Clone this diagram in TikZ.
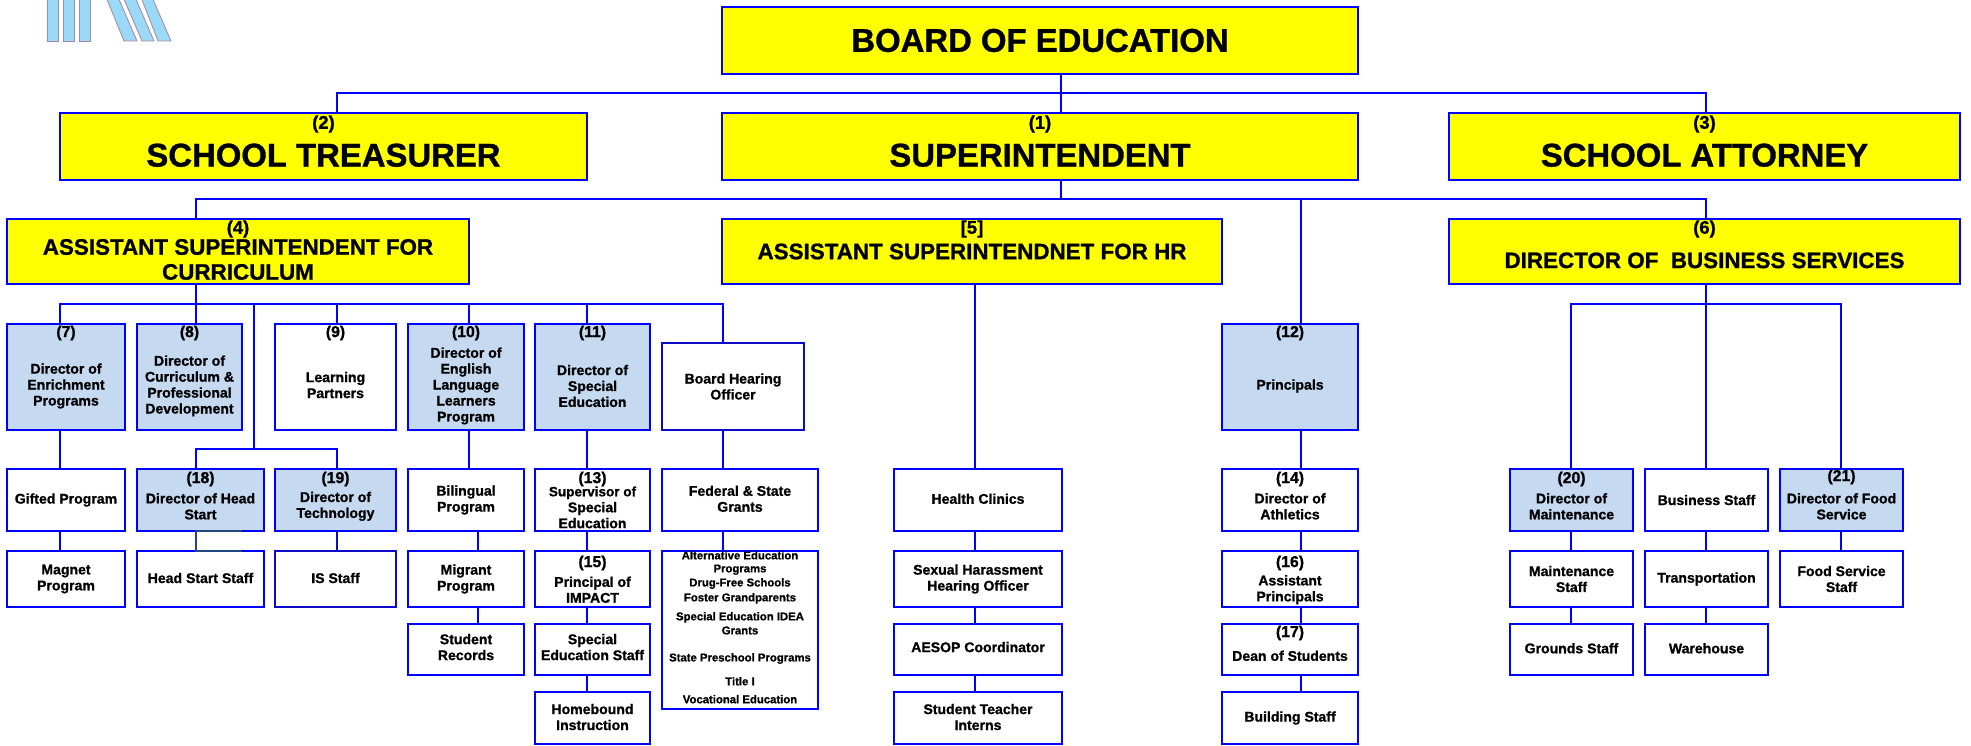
\documentclass[tikz,border=0pt]{standalone}
\usepackage{fontspec}
\setmainfont[BoldFeatures={FakeBold=1.0}]{Liberation Sans}
\usetikzlibrary{positioning}
\definecolor{chartblue}{RGB}{0,0,255}
\definecolor{chartyellow}{RGB}{255,255,0}
\definecolor{directorblue}{RGB}{197,217,241}
\definecolor{darkblue}{RGB}{10,10,200}
\definecolor{headteal}{RGB}{31,73,125}
\definecolor{logofill}{RGB}{155,217,248}
\definecolor{logoedge}{RGB}{165,140,165}
\newcommand{\dn}[1]{\rule{0pt}{#1}}
\newcommand{\up}[1]{\rule[-#1]{0pt}{0pt}}
\tikzset{
    % Define standard node styles
    boxsize/.style 2 args={
        minimum width=#1*0.02cm, minimum height=#2*0.02cm
    },
    orgbox/.style={
        rectangle, draw=chartblue, line width=1.3pt, anchor=north west,
        inner sep=0pt, outer sep=0pt, align=center, text=black
    },
    topbox/.style={
        orgbox, fill=chartyellow,
        font=\fontsize{18.7}{21}\selectfont\bfseries
    },
    midbox/.style={
        orgbox, fill=chartyellow,
        font=\fontsize{12.75}{14.2}\selectfont\bfseries
    },
    staffbox/.style={
        orgbox, fill=white,
        font=\fontsize{8}{9.07}\selectfont\bfseries
    },
    directorbox/.style={
        staffbox, fill=directorblue
    },
    tagtext/.style={
        font=\fontsize{10.5}{12}\selectfont\bfseries, inner sep=0pt
    },
    smalltag/.style={
        font=\fontsize{9}{10}\selectfont\bfseries, inner sep=0pt
    },
    tag/.style 2 args={
        label={[tagtext, anchor=center, yshift=-#2*0.02cm]north:#1}
    },
    stag/.style 2 args={
        label={[smalltag, anchor=center, yshift=-#2*0.02cm]north:#1}
    },
    link/.style={
        draw=chartblue, line width=1.3pt
    },
    logobar/.style={
        fill=logofill, draw=logoedge, line width=0.5pt
    }
}
\begin{document}
\begin{tikzpicture}[x=0.02cm, y=-0.02cm]
\useasboundingbox (0,0) rectangle (1971,746);

% logo at the page edge
\draw[logobar] (47,-3) -- (47,41) -- (58,41) -- (58,-3) -- cycle;
\draw[logobar] (63,-3) -- (63,41) -- (74,41) -- (74,-3) -- cycle;
\draw[logobar] (79,-3) -- (79,41) -- (90,41) -- (90,-3) -- cycle;
\draw[logobar] (106,-3) -- (124,41) -- (137,41) -- (118,-3) -- cycle;
\draw[logobar] (123,-3) -- (142,41) -- (154,41) -- (135,-3) -- cycle;
\draw[logobar] (141,-3) -- (158,41) -- (171,41) -- (152,-3) -- cycle;

% columns and rows of the connectors
\coordinate (col60) at (60,0);
\coordinate (col196) at (196,0);
\coordinate (col242) at (242,0);
\coordinate (col254) at (254,0);
\coordinate (col337) at (337,0);
\coordinate (col469) at (469,0);
\coordinate (col478) at (478,0);
\coordinate (col587) at (587,0);
\coordinate (col723) at (723,0);
\coordinate (col975) at (975,0);
\coordinate (col1061) at (1061,0);
\coordinate (col1301) at (1301,0);
\coordinate (col1571) at (1571,0);
\coordinate (col1706) at (1706,0);
\coordinate (col1841) at (1841,0);
\coordinate (row93) at (0,93);
\coordinate (row199) at (0,199);
\coordinate (row304) at (0,304);
\coordinate (row449) at (0,449);

% top levels
\node[topbox, boxsize={636}{67}] (board) at (722,7) {BOARD OF EDUCATION};
\node[topbox, boxsize={527}{67}, tag={(2)}{11}] (treasurer) at (60,113) {\dn{23pt}SCHOOL TREASURER};
\node[topbox, boxsize={636}{67}, tag={(1)}{11}] (superintendent) at (722,113) {\dn{23pt}SUPERINTENDENT};
\node[topbox, boxsize={511}{67}, tag={(3)}{11}] (attorney) at (1449,113) {\dn{23pt}SCHOOL ATTORNEY};
\node[midbox, boxsize={462}{65}, tag={(4)}{10}] (curriculum) at (7,219) {\dn{18pt}ASSISTANT SUPERINTENDENT FOR\\CURRICULUM};
\node[midbox, boxsize={500}{65}, tag={[5]}{10}] (hr) at (722,219) {ASSISTANT SUPERINTENDNET FOR HR};
\node[midbox, boxsize={511}{65}, tag={(6)}{10}] (business) at (1449,219) {\dn{19pt}DIRECTOR OF\ \ BUSINESS SERVICES};

% directors
\node[directorbox, boxsize={118}{106}, stag={(7)}{9}] (enrichment) at (7,324) {\dn{16pt}Director of\\Enrichment\\Programs};
\node[directorbox, boxsize={105}{106}, stag={(8)}{9}] (development) at (137,324) {\dn{16pt}Director of\\Curriculum \&\\Professional\\Development};
\node[staffbox, boxsize={121}{106}, stag={(9)}{9}] (partners) at (275,324) {\dn{15pt}Learning\\Partners};
\node[directorbox, boxsize={116}{106}, stag={(10)}{9}] (english) at (408,324) {\dn{16pt}Director of\\English\\Language\\Learners\\Program};
\node[directorbox, boxsize={115}{106}, stag={(11)}{9}] (special) at (535,324) {\dn{16pt}Director of\\Special\\Education};
\node[staffbox, draw=darkblue, boxsize={142}{87}] (hearing) at (662,343) {Board Hearing\\Officer};
\node[directorbox, boxsize={136}{106}, stag={(12)}{9}] (principals) at (1222,324) {\dn{16pt}Principals};

% second row
\node[staffbox, boxsize={118}{62}] (gifted) at (7,469) {Gifted Program};
\node[directorbox, boxsize={127}{62}, stag={(18)}{10}] (headstart) at (137,469) {\dn{13pt}Director of Head\\Start};
\node[directorbox, boxsize={121}{62}, stag={(19)}{10}] (technology) at (275,469) {\dn{13pt}Director of\\Technology};
\node[staffbox, boxsize={116}{62}] (bilingual) at (408,469) {Bilingual\\Program};
\node[staffbox, boxsize={115}{62}, stag={(13)}{10}] (supervisor) at (535,469) {\dn{14pt}\fontsize{7.7}{8.2}\selectfont Supervisor of\\Special\\Education};
\node[staffbox, boxsize={156}{62}] (grants) at (662,469) {Federal \& State\\Grants\up{1.5pt}};
\node[staffbox, boxsize={168}{62}] (clinics) at (894,469) {Health Clinics\up{1.5pt}};
\node[staffbox, boxsize={136}{62}, stag={(14)}{10}] (athletics) at (1222,469) {\dn{13pt}Director of\\Athletics};
\node[directorbox, boxsize={123}{62}, stag={(20)}{10}] (maintenance) at (1510,469) {\dn{13pt}Director of\\Maintenance};
\node[staffbox, boxsize={123}{62}] (bstaff) at (1645,469) {Business Staff};
\node[directorbox, boxsize={123}{62}, stag={(21)}{8}] (food) at (1780,469) {\dn{13pt}Director of Food\\Service};

% third row
\node[staffbox, boxsize={118}{56}] (magnet) at (7,551) {Magnet\\Program};
\node[staffbox, boxsize={127}{56}] (hsstaff) at (137,551) {Head Start Staff\up{1.2pt}};
\node[staffbox, draw=darkblue, boxsize={121}{56}] (isstaff) at (275,551) {IS Staff\up{1.2pt}};
\node[staffbox, boxsize={116}{56}] (migrant) at (408,551) {Migrant\\Program};
\node[staffbox, boxsize={115}{56}, stag={(15)}{12}] (impact) at (535,551) {\dn{18pt}Principal of\\IMPACT};
\node[staffbox, boxsize={156}{158}, inner ysep=-8pt, font=\fontsize{6.45}{7.4}\selectfont\bfseries] (programs) at (662,551) {Alternative Education\\Programs\\[0.6pt]Drug-Free Schools\\[1.1pt]Foster Grandparents\\[3.4pt]Special Education IDEA\\[0.6pt]Grants\\[8pt]State Preschool Programs\\[6.2pt]Title I\\[2.8pt]Vocational Education\up{3.2pt}};
\node[staffbox, boxsize={168}{56}] (harassment) at (894,551) {Sexual Harassment\\Hearing Officer};
\node[staffbox, boxsize={136}{56}, stag={(16)}{12}] (assistant) at (1222,551) {\dn{18pt}Assistant\\Principals};
\node[staffbox, boxsize={123}{56}] (mstaff) at (1510,551) {Maintenance\\Staff};
\node[staffbox, boxsize={123}{56}] (transport) at (1645,551) {Transportation};
\node[staffbox, boxsize={123}{56}] (fstaff) at (1780,551) {Food Service\\Staff};

% fourth row
\node[staffbox, boxsize={116}{51}] (records) at (408,624) {Student\\Records\up{2.8pt}};
\node[staffbox, boxsize={115}{51}] (spedstaff) at (535,624) {Special\\Education Staff\up{2.8pt}};
\node[staffbox, boxsize={168}{51}] (aesop) at (894,624) {AESOP Coordinator\up{2.8pt}};
\node[staffbox, boxsize={136}{51}, stag={(17)}{9}] (dean) at (1222,624) {\dn{13pt}Dean of Students};
\node[staffbox, boxsize={123}{51}] (grounds) at (1510,624) {Grounds Staff\up{1.5pt}};
\node[staffbox, boxsize={123}{51}] (warehouse) at (1645,624) {Warehouse\up{1.5pt}};

% last row
\node[staffbox, boxsize={115}{52}] (homebound) at (535,692) {Homebound\\Instruction\up{1.2pt}};
\node[staffbox, boxsize={168}{52}] (interns) at (894,692) {Student Teacher\\Interns\up{1.2pt}};
\node[staffbox, boxsize={136}{52}] (building) at (1222,692) {Building Staff};

% upper connectors
\draw[link] (board.south -| col1061) -- (superintendent.north -| col1061);
\draw[link] (treasurer.north -| col337) |- (col1706 |- row93) -- (attorney.north -| col1706);
\draw[link] (superintendent.south -| col1061) -- (col1061 |- row199);
\draw[link] (curriculum.north -| col196) |- (col1706 |- row199) -- (business.north -| col1706);
\draw[link] (col1301 |- row199) -- (principals.north -| col1301);

% curriculum branch
\draw[link] (curriculum.south -| col196) -- (development.north -| col196);
\draw[link] (enrichment.north -| col60) |- (col723 |- row304) -- (hearing.north -| col723);
\draw[link] (col337 |- row304) -- (partners.north -| col337);
\draw[link] (col469 |- row304) -- (english.north -| col469);
\draw[link] (col587 |- row304) -- (special.north -| col587);
\draw[link] (col254 |- row304) -- (col254 |- row449);
\draw[link] (headstart.north -| col196) |- (col337 |- row449) -- (technology.north -| col337);
\draw[link] (enrichment.south -| col60) -- (gifted.north -| col60);
\draw[link] (gifted.south -| col60) -- (magnet.north -| col60);
\draw[draw=headteal, line width=1.3pt] (headstart.south -| col242) -- (headstart.south -| col196) -- (hsstaff.north -| col196) -- (hsstaff.north -| col242);
\draw[draw=darkblue, line width=0.6pt] (technology.south -| col337) -- (isstaff.north -| col337);
\draw[link] (english.south -| col469) -- (bilingual.north -| col469);
\draw[link] (bilingual.south -| col478) -- (migrant.north -| col478);
\draw[link] (migrant.south -| col478) -- (records.north -| col478);
\draw[link] (special.south -| col587) -- (supervisor.north -| col587);
\draw[link] (supervisor.south -| col587) -- (impact.north -| col587);
\draw[link] (impact.south -| col587) -- (spedstaff.north -| col587);
\draw[link] (spedstaff.south -| col587) -- (homebound.north -| col587);
\draw[link] (hearing.south -| col723) -- (grants.north -| col723);
\draw[link] (grants.south -| col723) -- (programs.north -| col723);

% hr branch
\draw[link] (hr.south -| col975) -- (clinics.north -| col975);
\draw[link] (clinics.south -| col975) -- (harassment.north -| col975);
\draw[link] (harassment.south -| col975) -- (aesop.north -| col975);
\draw[link] (aesop.south -| col975) -- (interns.north -| col975);

% principals branch
\draw[link] (principals.south -| col1301) -- (athletics.north -| col1301);
\draw[link] (athletics.south -| col1301) -- (assistant.north -| col1301);
\draw[link] (assistant.south -| col1301) -- (dean.north -| col1301);
\draw[link] (dean.south -| col1301) -- (building.north -| col1301);

% business branch
\draw[link] (business.south -| col1706) -- (bstaff.north -| col1706);
\draw[link] (maintenance.north -| col1571) |- (col1841 |- row304) -- (food.north -| col1841);
\draw[link] (maintenance.south -| col1571) -- (mstaff.north -| col1571);
\draw[link] (mstaff.south -| col1571) -- (grounds.north -| col1571);
\draw[link] (bstaff.south -| col1706) -- (transport.north -| col1706);
\draw[link] (transport.south -| col1706) -- (warehouse.north -| col1706);
\draw[link] (food.south -| col1841) -- (fstaff.north -| col1841);

\end{tikzpicture}
\end{document}
